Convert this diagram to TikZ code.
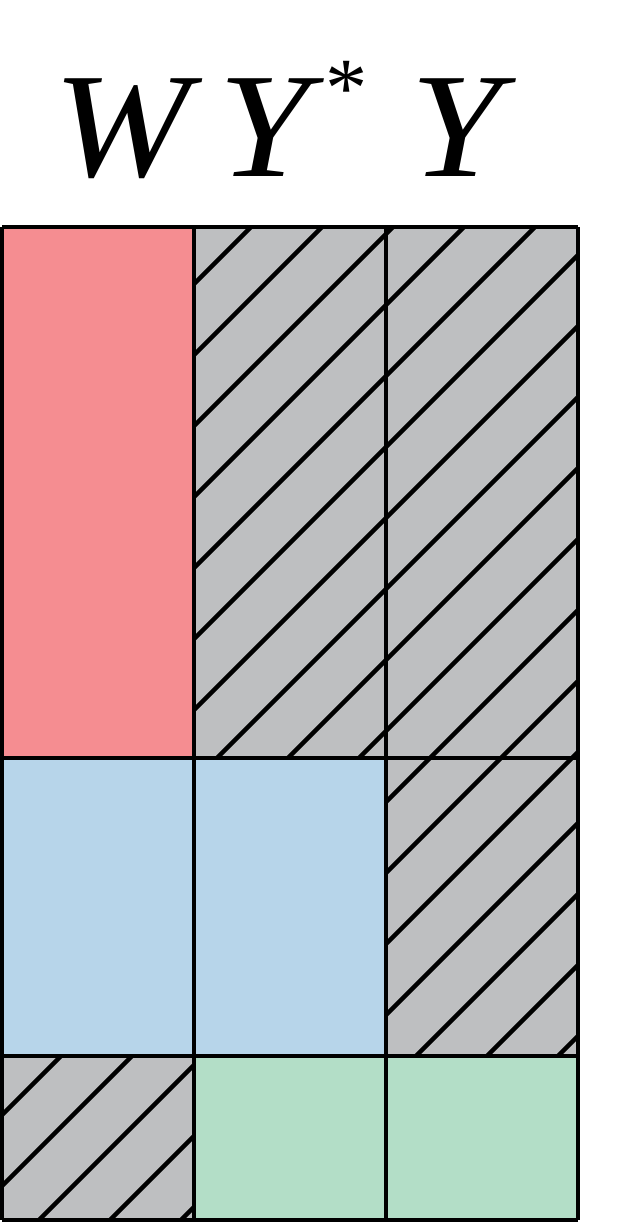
\documentclass[tikz,border=0pt]{standalone}
\usepackage{fontspec}
\setmainfont{Liberation Serif}
\definecolor{wcolor}{HTML}{F58D91}
\definecolor{ystarcolor}{HTML}{B7D5EA}
\definecolor{ycolor}{HTML}{B3DEC7}
\definecolor{hatchgray}{HTML}{BEBFC1}
\tikzset{
  cell/.style={draw=black,line width=2.5pt},
  hatch line/.style={black,line width=2.5pt},
  head/.style={font=\fontsize{85}{85}\selectfont\itshape,anchor=base,inner sep=0pt}
}
% gray cell with diagonal hatching: #1,#2 = top left, #3,#4 = bottom right
\newcommand{\hatchcell}[4]{%
  \fill[hatchgray] (#1,#2) rectangle (#3,#4);
  \begin{scope}
    \clip (#1,#2) rectangle (#3,#4);
    \foreach \k in {0,...,26}{\draw[hatch line] ({52+71*\k},0) -- ({52+71*\k-1300},1300);}
  \end{scope}}
\newcommand{\wide}[1]{\scalebox{1.1}[1]{#1}}

\begin{document}
\begin{tikzpicture}[x=0.02cm,y=-0.02cm]
  \useasboundingbox (0,0) rectangle (631,1224);
  % column heads
  \node[head] (lblW) at (122,176) {\wide{W}};
  \node[head] (lblYs) at (293,176) {\wide{Y}\hspace{9pt}\raisebox{34pt}{\upshape\fontsize{48}{48}\selectfont *}};
  \node[head] (lblY) at (456,176) {\wide{Y}};
  % coloured cells
  \fill[wcolor] (2,227) rectangle (194,758);
  \fill[ystarcolor] (2,758) rectangle (386,1056);
  \fill[ycolor] (194,1056) rectangle (578,1220);
  % hatched cells
  \hatchcell{194}{227}{386}{758}
  \hatchcell{386}{227}{578}{758}
  \hatchcell{386}{758}{578}{1056}
  \hatchcell{2}{1056}{194}{1220}
  % grid
  \foreach \x in {2,194,386,578}{\draw[cell] (\x,227) -- (\x,1220);}
  \foreach \y in {227,758,1056,1220}{\draw[cell] (2,\y) -- (578,\y);}
\end{tikzpicture}
\end{document}
